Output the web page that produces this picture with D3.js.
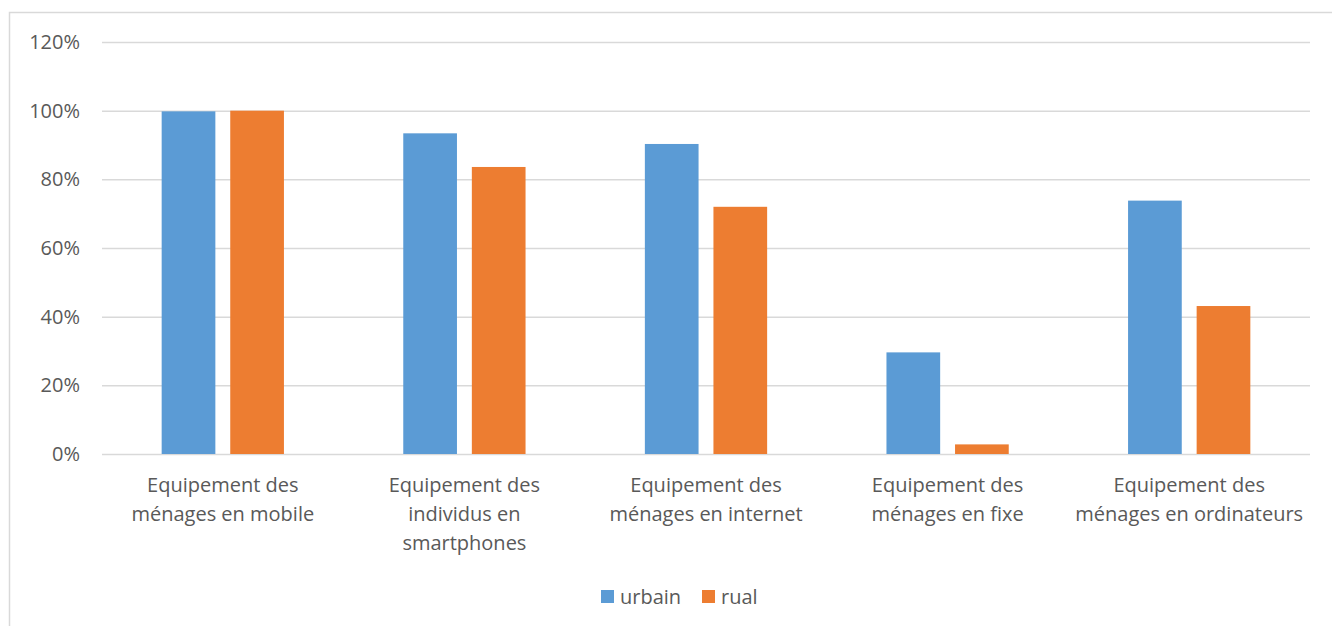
<!DOCTYPE html>
<html>
<head>
<meta charset="utf-8">
<script src="https://cdn.jsdelivr.net/npm/d3@7"></script>
<style>
  body { margin: 0; background: #fff; }
  svg text { font-family: "Open Sans", "Liberation Sans", sans-serif; fill: #595959; }
</style>
</head>
<body>
<div class="svg-container"></div>
<script>
/* CONSTANTS AND DATA */
const width = 1332,
    height = 626,
    m = { top: 42, bottom: 172, left: 102, right: 22 };

const categories = [
    ["Equipement des", "ménages en mobile"],
    ["Equipement des", "individus en", "smartphones"],
    ["Equipement des", "ménages en internet"],
    ["Equipement des", "ménages en fixe"],
    ["Equipement des", "ménages en ordinateurs"]
];
const seriesNames = ["urbain", "rual"];
const urbain = [99.8, 93.4, 90.3, 29.6, 73.8];
const rual = [100, 83.6, 72.0, 2.8, 43.1];
const yTicks = [0, 20, 40, 60, 80, 100, 120];
const colors = ["#5B9BD5", "#ED7D31"];

const values = [urbain, rual];
const fontSize = 20;

/* SCALES */
const catKeys = categories.map((d, i) => i);

const xScale = d3.scaleBand()
    .domain(catKeys)
    .range([m.left, width - m.right]);

const subScale = d3.scaleBand()
    .domain(seriesNames)
    .range([0, xScale.bandwidth()])
    .paddingInner(0.217)
    .paddingOuter(0.87);

const yScale = d3.scaleLinear()
    .domain([0, 120])
    .range([height - m.bottom, m.top]);

/* SVG */
const svg = d3.select(".svg-container")
    .append("svg")
    .attr("width", width)
    .attr("height", height);

// chart border
svg.append("rect")
    .attr("x", 9.5)
    .attr("y", 12.5)
    .attr("width", width)
    .attr("height", height)
    .attr("fill", "none")
    .attr("stroke", "#D9D9D9")
    .attr("stroke-width", 1.5);

// gridlines + y labels
const yAxis = d3.axisLeft(yScale)
    .tickValues(yTicks)
    .tickSize(-(width - m.left - m.right))
    .tickPadding(22)
    .tickFormat(d => d + "%");

const yg = svg.append("g")
    .attr("transform", `translate(${m.left},0)`)
    .call(yAxis);
yg.select(".domain").remove();
yg.selectAll(".tick line").attr("stroke", "#D9D9D9").attr("stroke-width", 1.5);
yg.selectAll(".tick text")
    .attr("font-size", fontSize)
    .style("font-family", "'Open Sans', sans-serif")
    .attr("fill", "#595959");

// bars
const groups = svg.selectAll(".cat")
    .data(catKeys)
    .enter()
    .append("g")
    .attr("class", "cat")
    .attr("transform", d => `translate(${xScale(d)},0)`);

groups.selectAll("rect")
    .data(i => seriesNames.map((s, j) => ({ s, j, v: values[j][i] })))
    .enter()
    .append("rect")
    .attr("x", d => subScale(d.s))
    .attr("y", d => yScale(d.v))
    .attr("width", subScale.bandwidth())
    .attr("height", d => yScale(0) - yScale(d.v))
    .attr("fill", d => colors[d.j]);

// x labels
const xg = svg.append("g");
catKeys.forEach(i => {
    const t = xg.append("text")
        .attr("x", xScale(i) + xScale.bandwidth() / 2)
        .attr("y", yScale(0) + 38)
        .attr("text-anchor", "middle")
        .attr("font-size", fontSize);
    categories[i].forEach((line, k) => {
        t.append("tspan")
            .attr("x", xScale(i) + xScale.bandwidth() / 2)
            .attr("dy", k === 0 ? 0 : 29)
            .text(line);
    });
});

// legend
const legend = svg.append("g").attr("transform", "translate(601,590)");
const legX = [0, 101];
seriesNames.forEach((s, j) => {
    legend.append("rect")
        .attr("x", legX[j])
        .attr("y", 0)
        .attr("width", 13)
        .attr("height", 13)
        .attr("fill", colors[j]);
    legend.append("text")
        .attr("x", legX[j] + 19)
        .attr("y", 14)
        .attr("font-size", fontSize)
        .text(s);
});
</script>
</body>
</html>
